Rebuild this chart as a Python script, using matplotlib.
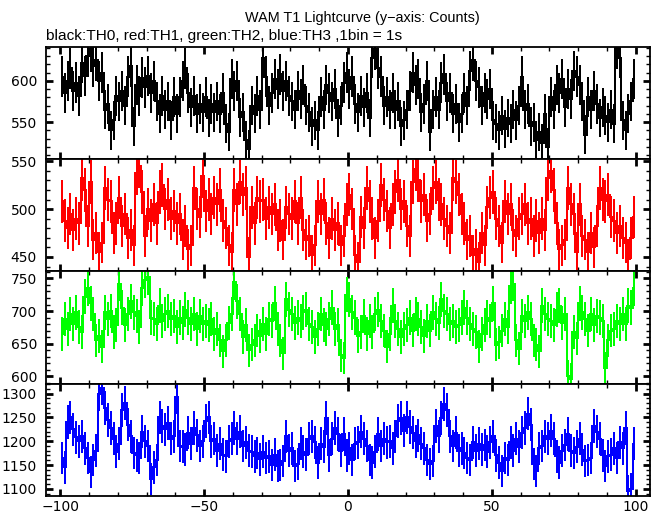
import numpy as np
import matplotlib
matplotlib.use('Agg')
import matplotlib.pyplot as plt
from matplotlib.ticker import MultipleLocator

plt.rcParams['font.family'] = ['Liberation Sans', 'DejaVu Sans']

# bin centres, 1 bin = 1 s
TIME = np.arange(-99.5, 100.0, 1.0)

TH0 = [605, 585, 600, 615, 588, 598, 582, 622, 606, 630,
       636, 618, 625, 600, 610, 565, 572, 540, 552, 582,
       575, 588, 570, 605, 618, 545, 595, 582, 604, 592,
       606, 585, 600, 575, 560, 582, 565, 575, 552, 580,
       560, 580, 600, 615, 585, 568, 582, 560, 572, 562,
       580, 555, 572, 562, 575, 560, 585, 548, 538, 602,
       588, 600, 556, 562, 528, 518, 570, 560, 582, 565,
       628, 605, 570, 585, 602, 590, 608, 588, 600, 582,
       575, 565, 588, 578, 595, 570, 562, 545, 552, 540,
       580, 565, 595, 585, 575, 590, 555, 570, 598, 610,
       590, 605, 572, 562, 582, 568, 585, 555, 628, 638,
       615, 605, 570, 580, 565, 585, 565, 575, 545, 552,
       565, 588, 610, 595, 602, 562, 572, 600, 538, 565,
       580, 565, 598, 608, 575, 585, 560, 572, 550, 560,
       585, 570, 612, 625, 600, 592, 570, 585, 578, 590,
       552, 548, 540, 558, 542, 555, 548, 565, 552, 570,
       605, 565, 572, 545, 550, 528, 538, 525, 560, 520,
       580, 565, 595, 585, 602, 568, 590, 578, 612, 605,
       595, 575, 535, 580, 565, 588, 572, 555, 568, 558,
       550, 565, 548, 640, 628, 552, 540, 560, 575, 602]

TH1 = [508, 488, 480, 495, 478, 490, 485, 532, 520, 482,
       528, 468, 475, 455, 465, 522, 510, 508, 475, 485,
       512, 482, 495, 470, 478, 462, 538, 545, 518, 472,
       500, 488, 505, 485, 518, 525, 500, 510, 490, 498,
       485, 495, 468, 482, 458, 462, 522, 500, 492, 535,
       498, 510, 495, 512, 505, 520, 488, 480, 462, 455,
       520, 505, 528, 515, 522, 450, 502, 485, 512, 508,
       510, 490, 502, 495, 505, 478, 488, 468, 502, 495,
       490, 508, 485, 512, 478, 468, 472, 452, 462, 508,
       495, 510, 485, 470, 490, 478, 485, 462, 472, 505,
       515, 500, 452, 445, 492, 480, 522, 508, 490, 470,
       488, 525, 510, 498, 480, 505, 518, 530, 500, 508,
       482, 472, 528, 542, 530, 508, 515, 488, 495, 522,
       528, 510, 505, 490, 482, 475, 532, 528, 515, 495,
       485, 468, 472, 452, 458, 445, 475, 462, 502, 512,
       518, 490, 482, 465, 508, 495, 505, 478, 472, 490,
       495, 505, 485, 490, 472, 488, 475, 490, 478, 532,
       540, 520, 485, 458, 462, 468, 522, 505, 495, 455,
       505, 472, 468, 455, 475, 460, 482, 522, 510, 508,
       515, 492, 488, 475, 482, 470, 465, 448, 470, 492]

TH2 = [665, 688, 672, 695, 680, 698, 675, 668, 722, 735,
       712, 695, 655, 662, 645, 698, 688, 700, 668, 678,
       742, 705, 678, 695, 715, 698, 692, 675, 735, 748,
       752, 690, 688, 680, 708, 685, 695, 700, 688, 692,
       675, 690, 682, 702, 690, 680, 695, 672, 692, 680,
       685, 678, 688, 665, 672, 655, 638, 655, 682, 695,
       745, 715, 695, 660, 678, 640, 648, 655, 670, 662,
       680, 665, 688, 685, 712, 672, 655, 635, 718, 702,
       695, 682, 690, 685, 698, 702, 680, 675, 660, 672,
       695, 678, 672, 688, 705, 672, 678, 632, 628, 725,
       718, 698, 690, 662, 668, 692, 665, 685, 668, 695,
       702, 685, 670, 645, 665, 708, 685, 672, 660, 672,
       678, 690, 670, 695, 688, 675, 662, 685, 670, 698,
       688, 682, 718, 700, 695, 680, 685, 675, 678, 690,
       705, 690, 680, 672, 668, 645, 665, 678, 690, 685,
       712, 648, 652, 670, 688, 675, 738, 742, 655, 642,
       692, 685, 698, 688, 655, 648, 638, 708, 695, 688,
       685, 678, 702, 708, 682, 695, 600, 596, 668, 658,
       712, 698, 688, 670, 695, 678, 692, 690, 685, 612,
       655, 670, 672, 685, 680, 695, 680, 708, 705, 735]

TH3 = [1165, 1145, 1240, 1250, 1225, 1208, 1200, 1210, 1185, 1165,
       1135, 1160, 1180, 1300, 1312, 1270, 1245, 1228, 1205, 1178,
       1195, 1265, 1280, 1235, 1210, 1175, 1170, 1165, 1220, 1200,
       1190, 1120, 1145, 1160, 1250, 1232, 1225, 1238, 1205, 1210,
       1292, 1190, 1188, 1182, 1218, 1195, 1228, 1212, 1190, 1200,
       1242, 1250, 1200, 1205, 1180, 1195, 1172, 1168, 1200, 1205,
       1228, 1205, 1220, 1190, 1198, 1180, 1178, 1168, 1175, 1162,
       1178, 1165, 1168, 1150, 1172, 1148, 1150, 1158, 1210, 1180,
       1185, 1148, 1152, 1195, 1178, 1172, 1205, 1210, 1198, 1155,
       1195, 1188, 1248, 1170, 1205, 1228, 1215, 1180, 1215, 1170,
       1185, 1160, 1195, 1198, 1220, 1205, 1190, 1160, 1155, 1178,
       1215, 1190, 1205, 1198, 1200, 1185, 1210, 1242, 1248, 1222,
       1250, 1230, 1218, 1200, 1212, 1195, 1185, 1160, 1152, 1158,
       1232, 1210, 1248, 1278, 1265, 1210, 1190, 1218, 1180, 1185,
       1175, 1165, 1160, 1198, 1180, 1195, 1182, 1192, 1178, 1198,
       1210, 1170, 1155, 1138, 1165, 1160, 1198, 1180, 1205, 1188,
       1218, 1228, 1258, 1235, 1152, 1138, 1185, 1190, 1210, 1205,
       1222, 1205, 1168, 1155, 1180, 1192, 1215, 1180, 1175, 1188,
       1205, 1182, 1158, 1160, 1165, 1232, 1220, 1205, 1170, 1148,
       1168, 1172, 1185, 1165, 1198, 1185, 1228, 1095, 1100, 1195]

SERIES = [TH0, TH1, TH2, TH3]
COLORS = ['black', '#ff0000', '#00ff00', '#0000ff']
YLIMS = [(505, 641), (435, 552), (588, 761), (1085, 1320)]

W, H = 662, 515
fig = plt.figure(figsize=(W / 100, H / 100), dpi=100)

left, right = 46, 650
edges = [47, 159.3, 271.3, 384, 496]

for k in range(4):
    y0, y1 = edges[k], edges[k + 1]
    ax = fig.add_axes([left / W, 1 - y1 / H, (right - left) / W, (y1 - y0) / H])
    counts = np.array(SERIES[k], dtype=float)
    err = np.sqrt(counts)
    c = COLORS[k]
    ax.plot(TIME, counts, drawstyle='steps-mid', color=c, lw=1.3,
            antialiased=False)
    eb = ax.errorbar(TIME, counts, yerr=err, fmt='none', ecolor=c,
                     elinewidth=1.3)
    for coll in eb[2]:
        coll.set_antialiased(False)
    ax.set_xlim(-105, 105)
    ax.set_ylim(*YLIMS[k])
    ax.xaxis.set_major_locator(MultipleLocator(50))
    ax.xaxis.set_minor_locator(MultipleLocator(10))
    ax.yaxis.set_major_locator(MultipleLocator(50))
    ax.yaxis.set_minor_locator(MultipleLocator(10))
    ax.tick_params(which='both', direction='in', top=True, right=True)
    ax.tick_params(which='major', length=5, width=2)
    ax.tick_params(which='minor', length=3, width=1)
    ax.tick_params(axis='y', pad=6.5)
    ax.tick_params(axis='x', pad=3)
    for lab in ax.get_xticklabels() + ax.get_yticklabels():
        lab.set_fontfamily('DejaVu Sans')
        lab.set_fontsize(10)
    for s in ax.spines.values():
        s.set_linewidth(1.3)
    if k < 3:
        ax.tick_params(labelbottom=False)

fig.text(362 / W, 1 - 18 / H, 'WAM T1 Lightcurve (y\u2212axis: Counts)',
         ha='center', va='center', fontsize=10.4)
fig.text(46 / W, 1 - 36 / H, 'black:TH0, red:TH1, green:TH2, blue:TH3 ,1bin = 1s',
         ha='left', va='center', fontsize=11.1)

fig.savefig('out.png', dpi=100)
